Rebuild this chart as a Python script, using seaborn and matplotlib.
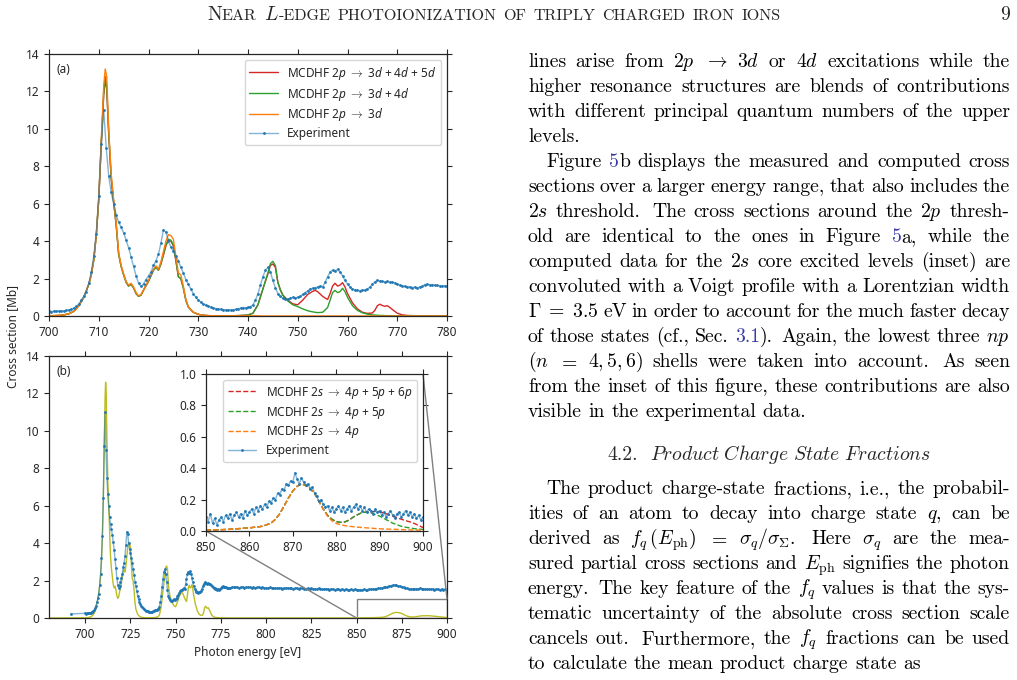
import re
import numpy as np
import matplotlib
matplotlib.use("Agg")
import matplotlib.pyplot as plt
import seaborn as sns
from mpl_toolkits.axes_grid1.inset_locator import mark_inset

# ---------------- data ----------------
# (a) experiment, 700 - 780 eV in 0.5 eV steps
exp_a = [
    0.25, 0.24, 0.26, 0.25, 0.26, 0.27, 0.28, 0.30, 0.33, 0.36,
    0.42, 0.52, 0.65, 0.85, 1.05, 1.30, 1.75, 2.35, 3.20, 4.40,
    6.40, 9.20, 11.0, 9.00, 7.50, 6.60, 6.00, 5.40, 5.00, 4.75,
    4.45, 4.05, 3.65, 3.15, 2.65, 2.15, 1.75, 1.58, 1.72, 1.95,
    2.15, 2.35, 2.70, 2.95, 3.30, 3.90, 4.60, 4.50, 4.00, 3.70,
    3.45, 3.20, 2.95, 2.60, 2.30, 1.95, 1.70, 1.45, 1.20, 1.00,
    0.85, 0.75, 0.65, 0.58, 0.52, 0.48, 0.44, 0.40, 0.38, 0.36,
    0.34, 0.33, 0.34, 0.32, 0.33, 0.35, 0.38, 0.42, 0.45, 0.44,
    0.46, 0.50, 0.60, 0.85, 1.20, 1.65, 2.10, 2.45, 2.60, 2.35,
    1.90, 1.50, 1.20, 1.05, 0.95, 0.92, 0.90, 0.95, 1.00, 0.98,
    1.00, 1.05, 1.15, 1.25, 1.35, 1.45, 1.48, 1.50, 1.55, 1.60,
    1.55, 1.80, 2.10, 2.35, 2.45, 2.40, 2.50, 2.35, 2.15, 1.90,
    1.70, 1.55, 1.45, 1.40, 1.38, 1.35, 1.38, 1.40, 1.45, 1.55,
    1.70, 1.82, 1.90, 1.88, 1.85, 1.82, 1.85, 1.80, 1.82, 1.75,
    1.72, 1.65, 1.62, 1.58, 1.55, 1.56, 1.52, 1.55, 1.50, 1.55,
    1.58, 1.68, 1.70, 1.66, 1.68, 1.65, 1.63, 1.62, 1.60, 1.62,
    1.60,
]
exp_a_e = np.linspace(700, 780, len(exp_a))

# (b) experiment: first point and extension 781 - 900 eV (1 eV steps)
exp_b_first_e = [692.0]
exp_b_first = [0.22]
exp_b_ext = [
    1.66, 1.63, 1.67, 1.65, 1.62, 1.66, 1.64, 1.61, 1.65, 1.63,
    1.66, 1.62, 1.64, 1.60, 1.63, 1.65, 1.61, 1.63, 1.60, 1.62,
    1.61, 1.63, 1.59, 1.62, 1.60, 1.58, 1.62, 1.60, 1.57, 1.61,
    1.59, 1.62, 1.58, 1.60, 1.57, 1.59, 1.61, 1.56, 1.59, 1.58,
    1.57, 1.55, 1.59, 1.56, 1.58, 1.54, 1.57, 1.55, 1.58, 1.54,
    1.56, 1.53, 1.57, 1.55, 1.52, 1.56, 1.54, 1.51, 1.55, 1.53,
    1.52, 1.55, 1.51, 1.54, 1.52, 1.50, 1.53, 1.51, 1.54, 1.50,
    1.49, 1.52, 1.50, 1.53, 1.51, 1.52, 1.54, 1.53, 1.55, 1.56,
    1.57, 1.58, 1.59, 1.61, 1.63, 1.65, 1.68, 1.71, 1.73, 1.76,
    1.75, 1.74, 1.72, 1.70, 1.67, 1.63, 1.60, 1.58, 1.57, 1.56,
    1.56, 1.55, 1.57, 1.56, 1.58, 1.57, 1.55, 1.56, 1.54, 1.55,
    1.53, 1.54, 1.52, 1.55, 1.53, 1.52, 1.54, 1.51, 1.53, 1.52,
]
exp_b_ext_e = np.linspace(781, 900, len(exp_b_ext))

# MCDHF 2p calculations
th_e = [
    700, 702, 703, 704, 705, 706, 707, 708, 708.5, 709,
    709.5, 710, 710.5, 711, 711.3, 711.6, 712, 712.5, 713, 713.5,
    714, 714.5, 715, 715.5, 716, 716.5, 717, 717.5, 718, 718.5,
    719, 720, 721, 721.5, 722, 722.5, 723, 723.5, 724, 724.5,
    725, 725.5, 726, 726.5, 727, 727.5, 728, 729, 730, 731,
    732, 734, 736, 738, 740, 741, 742, 743, 744, 744.5,
    745, 745.5, 746, 746.5, 747, 748, 749, 750, 751, 752,
    753, 753.5, 754, 755, 756, 756.5, 757, 757.5, 758, 758.5,
    759, 759.5, 760, 761, 762, 763, 764, 765, 765.5, 766,
    766.5, 767, 767.5, 768, 768.5, 769, 770, 771, 772, 774,
    776, 778, 780,
]
th_3d = [
    0.01, 0.03, 0.06, 0.12, 0.25, 0.55, 1.00, 1.70, 2.20, 3.00,
    4.30, 6.30, 9.40, 12.3, 13.2, 12.8, 10.0, 7.60, 6.20, 5.00,
    3.40, 2.70, 2.25, 1.85, 1.65, 1.75, 1.55, 1.25, 1.08, 1.15,
    1.40, 1.90, 2.50, 2.68, 2.50, 2.90, 3.45, 4.00, 4.35, 4.30,
    4.10, 3.20, 2.30, 2.20, 1.60, 0.90, 0.50, 0.20, 0.09, 0.04,
    0.02, 0.01, 0.01, 0.01, 0.01, 0.01, 0.01, 0.00, 0.00, 0.00,
    0.00, 0.00, 0.00, 0.00, 0.00, 0.00, 0.00, 0.00, 0.00, 0.00,
    0.00, 0.00, 0.00, 0.00, 0.00, 0.00, 0.00, 0.00, 0.00, 0.00,
    0.00, 0.00, 0.00, 0.00, 0.00, 0.00, 0.00, 0.00, 0.00, 0.00,
    0.00, 0.00, 0.00, 0.00, 0.00, 0.00, 0.00, 0.00, 0.00, 0.00,
    0.00, 0.00, 0.00,
]
th_34d = [
    0.01, 0.03, 0.06, 0.12, 0.25, 0.55, 1.00, 1.70, 2.20, 3.00,
    4.30, 6.20, 9.20, 12.0, 12.8, 12.3, 9.80, 7.40, 6.10, 4.90,
    3.30, 2.65, 2.20, 1.80, 1.60, 1.70, 1.50, 1.20, 1.05, 1.12,
    1.38, 1.85, 2.45, 2.60, 2.45, 2.80, 3.30, 3.80, 4.10, 4.05,
    3.80, 3.00, 2.10, 2.00, 1.50, 0.85, 0.48, 0.20, 0.09, 0.04,
    0.02, 0.01, 0.01, 0.02, 0.05, 0.15, 0.60, 1.45, 2.30, 2.80,
    2.92, 2.70, 1.80, 1.40, 1.10, 0.80, 0.60, 0.50, 0.38, 0.28,
    0.22, 0.20, 0.18, 0.20, 0.45, 0.85, 1.25, 1.37, 1.25, 1.30,
    1.48, 1.30, 1.00, 0.55, 0.30, 0.17, 0.10, 0.06, 0.05, 0.04,
    0.03, 0.03, 0.02, 0.02, 0.02, 0.01, 0.01, 0.00, 0.00, 0.00,
    0.00, 0.00, 0.00,
]
th_345d = [
    0.01, 0.03, 0.06, 0.12, 0.25, 0.55, 1.00, 1.70, 2.20, 3.00,
    4.30, 6.20, 9.10, 11.8, 12.6, 12.1, 9.70, 7.35, 6.05, 4.85,
    3.30, 2.65, 2.20, 1.80, 1.60, 1.70, 1.50, 1.20, 1.05, 1.12,
    1.38, 1.85, 2.45, 2.60, 2.45, 2.78, 3.25, 3.75, 4.05, 4.00,
    3.75, 2.95, 2.10, 2.00, 1.50, 0.85, 0.48, 0.20, 0.09, 0.04,
    0.02, 0.01, 0.01, 0.02, 0.05, 0.15, 0.60, 1.45, 2.25, 2.70,
    2.78, 2.60, 1.80, 1.40, 1.12, 0.85, 0.65, 0.60, 0.85, 1.15,
    1.32, 1.37, 1.30, 1.05, 0.88, 1.20, 1.60, 1.75, 1.60, 1.65,
    1.78, 1.55, 1.20, 0.70, 0.38, 0.20, 0.14, 0.16, 0.30, 0.55,
    0.63, 0.56, 0.52, 0.55, 0.46, 0.35, 0.15, 0.06, 0.03, 0.01,
    0.005, 0.00, 0.00,
]

# inset: 850 - 900 eV
ins_exp = [
    0.09, 0.06, 0.11, 0.05, 0.08, 0.04, 0.07, 0.09, 0.06, 0.10,
    0.08, 0.11, 0.07, 0.10, 0.12, 0.09, 0.11, 0.08, 0.13, 0.10,
    0.12, 0.14, 0.11, 0.15, 0.13, 0.16, 0.14, 0.17, 0.15, 0.19,
    0.18, 0.21, 0.20, 0.24, 0.23, 0.27, 0.26, 0.30, 0.29, 0.32,
    0.31, 0.37, 0.33, 0.30, 0.34, 0.31, 0.29, 0.30, 0.27, 0.28,
    0.24, 0.22, 0.19, 0.20, 0.17, 0.15, 0.16, 0.13, 0.15, 0.12,
    0.14, 0.16, 0.13, 0.15, 0.12, 0.14, 0.16, 0.13, 0.15, 0.17,
    0.14, 0.16, 0.13, 0.15, 0.12, 0.14, 0.13, 0.11, 0.14, 0.12,
    0.13, 0.10, 0.12, 0.09, 0.11, 0.13, 0.10, 0.08, 0.11, 0.12,
    0.09, 0.11, 0.13, 0.10, 0.12, 0.09, 0.11, 0.08, 0.10, 0.07,
    0.09,
]
ins_exp_e = np.linspace(850, 900, len(ins_exp))

ins_e = [
    850, 855, 860, 863, 865, 866, 867, 868, 869, 870,
    871, 872, 873, 874, 875, 876, 877, 878, 879, 880,
    881, 882, 883, 884, 885, 886, 887, 888, 889, 890,
    891, 892, 893, 894, 895, 896, 897, 898, 899, 900,
]
th_4p = [
    0.005, 0.010, 0.020, 0.030, 0.050, 0.075, 0.110, 0.160, 0.210, 0.255,
    0.285, 0.300, 0.290, 0.270, 0.240, 0.190, 0.140, 0.095, 0.065, 0.048,
    0.040, 0.034, 0.030, 0.027, 0.024, 0.022, 0.020, 0.018, 0.016, 0.014,
    0.013, 0.012, 0.011, 0.010, 0.009, 0.008, 0.007, 0.006, 0.006, 0.005,
]
th_45p = [
    0.005, 0.010, 0.020, 0.030, 0.050, 0.075, 0.110, 0.160, 0.210, 0.255,
    0.285, 0.300, 0.290, 0.270, 0.240, 0.190, 0.140, 0.100, 0.075, 0.060,
    0.055, 0.058, 0.070, 0.090, 0.105, 0.118, 0.120, 0.115, 0.105, 0.095,
    0.080, 0.065, 0.050, 0.040, 0.030, 0.024, 0.019, 0.015, 0.012, 0.010,
]
th_456p = [
    0.005, 0.010, 0.020, 0.030, 0.050, 0.075, 0.110, 0.160, 0.210, 0.255,
    0.285, 0.300, 0.290, 0.270, 0.240, 0.190, 0.140, 0.100, 0.075, 0.060,
    0.055, 0.058, 0.070, 0.090, 0.105, 0.118, 0.120, 0.122, 0.125, 0.122,
    0.115, 0.105, 0.095, 0.085, 0.075, 0.066, 0.058, 0.048, 0.035, 0.022,
]

# ---------------- text content ----------------
header_pieces = [("N", "big"), ("EAR", "sc"), (" ", None), ("$L$", "big"),
                 ("-EDGE", "sc"), (" ", None), ("PHOTOIONIZATION", "sc"), (" ", None),
                 ("OF", "sc"), (" ", None), ("TRIPLY", "sc"), (" ", None),
                 ("CHARGED", "sc"), (" ", None), ("IRON", "sc"), (" ", None), ("IONS", "sc")]
page_number = "9"

para1 = [
    r"lines arise from $2p$ $\rightarrow$ $3d$ or $4d$ excitations while the",
    r"higher resonance structures are blends of contributions",
    r"with different principal quantum numbers of the upper",
    r"levels.",
]
para2 = [
    r"Figure <5>b displays the measured and computed cross",
    r"sections over a larger energy range, that also includes the",
    r"$2s$ threshold.  The cross sections around the $2p$ thresh-",
    r"old are identical to the ones in Figure <5>a, while the",
    r"computed data for the $2s$ core excited levels (inset) are",
    r"convoluted with a Voigt profile with a Lorentzian width",
    r"$\Gamma\;=\;3.5$ eV in order to account for the much faster decay",
    r"of those states (cf., Sec. <3.1>).  Again, the lowest three $np$",
    r"$(n$ $=$ $4,5,6)$ shells were taken into account.  As seen",
    r"from the inset of this figure, these contributions are also",
    r"visible in the experimental data.",
]
heading_num = "4.2."
heading_txt = r"$\mathit{Product\ Charge\ State\ Fractions}$"
para3 = [
    r"The product charge-state fractions, i.e., the probabil-",
    r"ities of an atom to decay into charge state $q$, can be",
    r"derived as $f_q\,(E_\mathrm{ph})$ $=$ $\sigma_q/\sigma_\Sigma$.  Here $\sigma_q$ are the mea-",
    r"sured partial cross sections and $E_\mathrm{ph}$ signifies the photon",
    r"energy.  The key feature of the $f_q$ values is that the sys-",
    r"tematic uncertainty of the absolute cross section scale",
    r"cancels out.  Furthermore, the $f_q$ fractions can be used",
    r"to calculate the mean product charge state as",
]

# ---------------- style ----------------
sns.set_style("ticks")
plt.rcParams["font.family"] = ["Noto Sans", "DejaVu Sans"]
plt.rcParams["mathtext.fontset"] = "custom"
plt.rcParams["mathtext.rm"] = "Noto Sans"
plt.rcParams["mathtext.it"] = "Noto Sans:italic"
plt.rcParams["mathtext.bf"] = "Noto Sans:bold"
plt.rcParams["font.size"] = 8.5
plt.rcParams["legend.fontsize"] = 8.5

C0 = matplotlib.colors.to_rgb("tab:blue")
EXP_LINE = (*C0, 0.55)

W, H = 1017, 680
fig = plt.figure(figsize=(W / 100, H / 100), dpi=100)
ax_a = fig.add_axes([49 / W, 1 - 316 / H, 398 / W, 262 / H])
ax_b = fig.add_axes([49 / W, 1 - 618 / H, 398 / W, 262 / H])
axins = fig.add_axes([206 / W, 1 - 531 / H, 217 / W, 157 / H])

exp_kw = dict(color=EXP_LINE, lw=1.0, marker="o", markersize=2.0,
              markerfacecolor=C0, markeredgecolor=C0, markeredgewidth=0,
              sort=False, estimator=None)

# --- panel (a)
sns.lineplot(x=th_e, y=th_345d, ax=ax_a, color="tab:red", lw=1.0, sort=False, estimator=None,
             label=r"MCDHF 2$p$ $\rightarrow$ 3$d$ + 4$d$ + 5$d$")
sns.lineplot(x=th_e, y=th_34d, ax=ax_a, color="tab:green", lw=1.0, sort=False, estimator=None,
             label=r"MCDHF 2$p$ $\rightarrow$ 3$d$ + 4$d$")
sns.lineplot(x=th_e, y=th_3d, ax=ax_a, color="tab:orange", lw=1.0, sort=False, estimator=None,
             label=r"MCDHF 2$p$ $\rightarrow$ 3$d$")
sns.lineplot(x=exp_a_e, y=exp_a, ax=ax_a, label="Experiment", **exp_kw)
ax_a.set_xlim(700, 780)
ax_a.set_ylim(0, 14)
ax_a.set_xticks(np.arange(700, 781, 10))
ax_a.set_yticks(np.arange(0, 15, 2))
ax_a.legend(loc="upper right", frameon=True, handlelength=2.4, labelspacing=0.33)
ax_a.text(0.02, 0.965, "(a)", transform=ax_a.transAxes, va="top", ha="left")

# --- panel (b)
olive_e = [680] + th_e + [850] + ins_e
olive_y = [0.0] + th_345d + [0.0] + th_456p
sns.lineplot(x=olive_e, y=olive_y, ax=ax_b, color="tab:olive", lw=1.0, sort=False, estimator=None)
exp_b_e = list(exp_b_first_e) + list(exp_a_e) + list(exp_b_ext_e)
exp_b_y = exp_b_first + exp_a + exp_b_ext
sns.lineplot(x=exp_b_e, y=exp_b_y, ax=ax_b, **exp_kw)
ax_b.set_xlim(680, 900)
ax_b.set_ylim(0, 14)
ax_b.set_xticks(np.arange(700, 901, 25))
ax_b.set_yticks(np.arange(0, 15, 2))
ax_b.set_xlabel("Photon energy [eV]")
ax_b.text(0.02, 0.965, "(b)", transform=ax_b.transAxes, va="top", ha="left")

# --- inset
sns.lineplot(x=ins_e, y=th_456p, ax=axins, color="tab:red", lw=1.0, linestyle="--", sort=False,
             estimator=None, label=r"MCDHF 2$s$ $\rightarrow$ 4$p$ + 5$p$ + 6$p$")
sns.lineplot(x=ins_e, y=th_45p, ax=axins, color="tab:green", lw=1.0, linestyle="--", sort=False,
             estimator=None, label=r"MCDHF 2$s$ $\rightarrow$ 4$p$ + 5$p$")
sns.lineplot(x=ins_e, y=th_4p, ax=axins, color="tab:orange", lw=1.0, linestyle="--", sort=False,
             estimator=None, label=r"MCDHF 2$s$ $\rightarrow$ 4$p$")
sns.lineplot(x=ins_exp_e, y=ins_exp, ax=axins, label="Experiment", **exp_kw)
axins.set_xlim(850, 900)
axins.set_ylim(0, 1)
axins.set_xticks(np.arange(850, 901, 10))
axins.set_yticks(np.arange(0, 1.01, 0.2))
axins.set_yticklabels([f"{v:.1f}" for v in np.arange(0, 1.01, 0.2)])
axins.legend(loc="upper right", frameon=True, handlelength=2.4, labelspacing=0.33)
mark_inset(ax_b, axins, loc1=3, loc2=1, fc="none", ec="0.5", lw=1.0)

for ax in (ax_a, ax_b, axins):
    ax.set_ylabel("")
    ax.tick_params(which="both", direction="out", top=True, right=True,
                   labeltop=False, labelright=False, length=3.5, width=0.8)
    for s in ax.spines.values():
        s.set_visible(True)
        s.set_color("0.15")
        s.set_linewidth(0.9)
ax_a.set_xlabel("")

fig.text(13 / W, 1 - 336 / H, "Cross section [Mb]", rotation=90, va="center", ha="center")

# ---------------- page text ----------------
renderer = fig.canvas.get_renderer()
BODY_SIZE = 14.2
LINK = "#3a3aa8"
body_kw = dict(family="cmr10", math_fontfamily="cm", va="baseline", ha="left")


def make_word(word, size):
    segs = []
    for part in re.split(r"(<[^>]*>)", word):
        if not part:
            continue
        color = "black"
        if part.startswith("<"):
            part, color = part[1:-1], LINK
        t = fig.text(0, 0, part, fontsize=size, color=color, **body_kw)
        segs.append((t, t.get_window_extent(renderer).width))
    return segs


def draw_line(line, y, x0, x1, justify, size=BODY_SIZE):
    tokens = re.split(r"( +)", line)
    words, weights = [], []
    for i, tok in enumerate(tokens):
        if i % 2 == 0:
            words.append(make_word(tok, size))
        else:
            weights.append(1.4 if len(tok) > 1 else 1.0)
    widths = [sum(w for _, w in segs) for segs in words]
    space = 0.333 * size * 100 / 72
    if justify and weights:
        unit = (x1 - x0 - sum(widths)) / sum(weights)
    else:
        unit = space
    x = x0
    for k, segs in enumerate(words):
        xx = x
        for t, w in segs:
            t.set_position((xx / W, 1 - y / H))
            xx += w
        x += widths[k]
        if k < len(weights):
            x += unit * weights[k]


X0, X1 = 528, 1010
INDENT = 18
LS = 25.0
y = 67
for i, line in enumerate(para1):
    draw_line(line, y, X0, X1, justify=(i < len(para1) - 1))
    y += LS
for i, line in enumerate(para2):
    draw_line(line, y, X0 + (INDENT if i == 0 else 0), X1, justify=(i < len(para2) - 1))
    y += LS

# heading
hy = 460.5
t1 = fig.text(0, 0, heading_num, fontsize=BODY_SIZE, **body_kw)
t2 = fig.text(0, 0, heading_txt, fontsize=BODY_SIZE, **body_kw)
w1 = t1.get_window_extent(renderer).width
w2 = t2.get_window_extent(renderer).width
gap = 12
hx = (X0 + X1) / 2 - (w1 + gap + w2) / 2
t1.set_position((hx / W, 1 - hy / H))
t2.set_position(((hx + w1 + gap) / W, 1 - hy / H))

y = 494.5
for i, line in enumerate(para3):
    draw_line(line, y, X0 + (INDENT if i == 0 else 0), X1, justify=(i < len(para3) - 1))
    y += 24.9

# running header
hx = 207
for txt, kind in header_pieces:
    if kind is None:
        hx += 7
        continue
    size = BODY_SIZE if kind == "big" else BODY_SIZE * 0.815
    t = fig.text(hx / W, 1 - 20 / H, txt, fontsize=size, **body_kw)
    hx += t.get_window_extent(renderer).width
fig.text(1010 / W, 1 - 20 / H, page_number, fontsize=BODY_SIZE, family="cmr10",
         va="baseline", ha="right")

fig.savefig("out.png", dpi=100)
